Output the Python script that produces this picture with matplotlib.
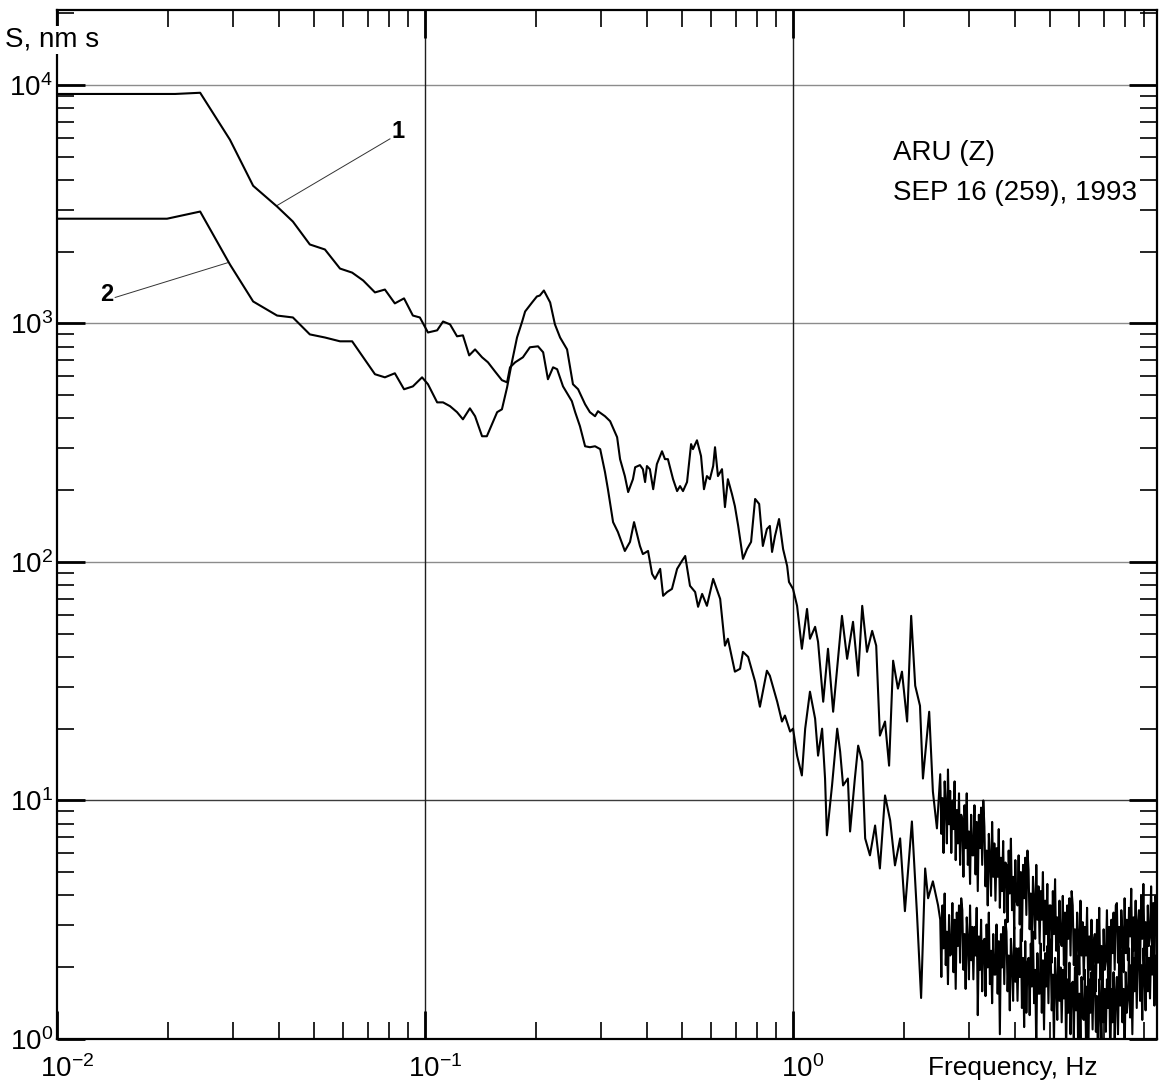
import numpy as np
import matplotlib.pyplot as plt
from matplotlib.transforms import ScaledTranslation

plt.rcParams['font.family'] = ['Liberation Sans', 'DejaVu Sans']
plt.rcParams['mathtext.fontset'] = 'custom'
plt.rcParams['mathtext.rm'] = 'Liberation Sans'
plt.rcParams['mathtext.it'] = 'Liberation Sans:italic'
plt.rcParams['mathtext.bf'] = 'Liberation Sans:bold'
plt.rcParams['axes.unicode_minus'] = False

# values, stored as log10(frequency) and log10(S)
# curve 1 (upper at low frequency)
c1_f_exp = [
    -2.000, -1.679, -1.611, -1.530, -1.467, -1.402, -1.359, -1.313, -1.272, -1.231,
    -1.198, -1.168, -1.136, -1.109, -1.082, -1.057, -1.033, -1.014, -0.992, -0.967,
    -0.951, -0.932, -0.913, -0.897, -0.880, -0.864, -0.845, -0.829, -0.810, -0.791,
    -0.777, -0.769, -0.755, -0.734, -0.715, -0.693, -0.679, -0.666, -0.652, -0.641,
    -0.625, -0.601, -0.592, -0.579, -0.565, -0.552, -0.538, -0.524, -0.511, -0.503,
    -0.489, -0.476, -0.457, -0.443, -0.432, -0.416, -0.408, -0.394, -0.383, -0.375,
    -0.361, -0.353, -0.342, -0.329, -0.315, -0.302, -0.293, -0.280, -0.266, -0.258,
    -0.247, -0.234, -0.217, -0.198, -0.185, -0.177, -0.158, -0.144, -0.136, -0.122,
    -0.103, -0.090, -0.071, -0.063, -0.043, -0.030, -0.022, -0.008, 0.000, 0.011,
    0.024, 0.033, 0.046, 0.060, 0.068, 0.079, 0.087, 0.092, 0.106, 0.120,
    0.128, 0.136, 0.149, 0.155, 0.168, 0.177, 0.188, 0.196, 0.209, 0.223,
    0.236, 0.250, 0.264, 0.277, 0.291, 0.304, 0.323, 0.337, 0.348, 0.359,
    0.367, 0.380, 0.394,
]
c1_s_exp = [
    3.962, 3.962, 3.967, 3.770, 3.577, 3.490, 3.427, 3.331, 3.310, 3.230,
    3.213, 3.180, 3.130, 3.142, 3.084, 3.105, 3.033, 3.025, 2.962, 2.971,
    3.008, 2.996, 2.946, 2.950, 2.866, 2.891, 2.858, 2.837, 2.799, 2.762,
    2.753, 2.816, 2.837, 2.858, 2.900, 2.904, 2.879, 2.766, 2.816, 2.808,
    2.736, 2.674, 2.628, 2.569, 2.485, 2.481, 2.485, 2.473, 2.377, 2.305,
    2.167, 2.126, 2.046, 2.084, 2.167, 2.067, 2.033, 2.046, 1.950, 1.929,
    1.971, 1.858, 1.874, 1.887, 1.971, 2.004, 2.025, 1.900, 1.874, 1.812,
    1.866, 1.816, 1.929, 1.845, 1.649, 1.678, 1.540, 1.552, 1.623, 1.602,
    1.498, 1.393, 1.544, 1.523, 1.414, 1.331, 1.356, 1.289, 1.301, 1.188,
    1.105, 1.301, 1.456, 1.343, 1.188, 1.301, 1.092, 0.854, 1.063, 1.301,
    1.205, 1.063, 1.092, 0.870, 1.092, 1.230, 1.163, 0.841, 0.770, 0.895,
    0.715, 1.021, 0.916, 0.728, 0.841, 0.536, 0.912, 0.519, 0.172, 0.715,
    0.590, 0.661, 0.561,
]

# curve 2 (lower at low frequency, carries the 0.2 Hz peak)
c2_f_exp = [
    -2.000, -1.701, -1.611, -1.530, -1.467, -1.402, -1.359, -1.313, -1.272, -1.231,
    -1.198, -1.168, -1.136, -1.109, -1.082, -1.057, -1.033, -1.008, -0.992, -0.967,
    -0.951, -0.932, -0.913, -0.897, -0.878, -0.864, -0.845, -0.832, -0.818, -0.804,
    -0.791, -0.777, -0.764, -0.750, -0.736, -0.728, -0.709, -0.696, -0.688, -0.677,
    -0.660, -0.647, -0.633, -0.614, -0.598, -0.584, -0.565, -0.552, -0.538, -0.530,
    -0.511, -0.497, -0.478, -0.470, -0.457, -0.448, -0.435, -0.429, -0.416, -0.408,
    -0.402, -0.397, -0.389, -0.380, -0.370, -0.356, -0.348, -0.340, -0.326, -0.315,
    -0.307, -0.299, -0.288, -0.277, -0.272, -0.261, -0.250, -0.242, -0.234, -0.226,
    -0.217, -0.212, -0.204, -0.193, -0.185, -0.177, -0.166, -0.158, -0.149, -0.136,
    -0.125, -0.114, -0.103, -0.092, -0.082, -0.071, -0.063, -0.057, -0.049, -0.038,
    -0.027, -0.016, -0.011, 0.000, 0.011, 0.024, 0.038, 0.046, 0.060, 0.068,
    0.082, 0.095, 0.109, 0.133, 0.147, 0.163, 0.177, 0.188, 0.201, 0.215,
    0.226, 0.236, 0.250, 0.261, 0.272, 0.285, 0.296, 0.310, 0.321, 0.332,
    0.345, 0.353, 0.370, 0.380, 0.391,
]
c2_s_exp = [
    3.439, 3.439, 3.469, 3.247, 3.092, 3.033, 3.025, 2.954, 2.941, 2.925,
    2.925, 2.858, 2.787, 2.774, 2.791, 2.724, 2.736, 2.774, 2.745, 2.669,
    2.669, 2.653, 2.628, 2.598, 2.644, 2.611, 2.527, 2.527, 2.577, 2.628,
    2.640, 2.732, 2.837, 2.941, 3.008, 3.050, 3.088, 3.113, 3.117, 3.138,
    3.088, 2.996, 2.941, 2.891, 2.745, 2.724, 2.661, 2.628, 2.611, 2.632,
    2.611, 2.590, 2.523, 2.431, 2.360, 2.293, 2.347, 2.397, 2.406, 2.389,
    2.335, 2.402, 2.389, 2.305, 2.410, 2.464, 2.431, 2.431, 2.347, 2.297,
    2.318, 2.297, 2.335, 2.494, 2.473, 2.510, 2.444, 2.305, 2.360, 2.347,
    2.402, 2.481, 2.360, 2.389, 2.230, 2.347, 2.285, 2.234, 2.151, 2.013,
    2.054, 2.084, 2.264, 2.243, 2.067, 2.138, 2.151, 2.042, 2.109, 2.180,
    2.054, 1.983, 1.916, 1.887, 1.816, 1.636, 1.803, 1.678, 1.728, 1.665,
    1.414, 1.636, 1.372, 1.774, 1.594, 1.749, 1.523, 1.816, 1.623, 1.711,
    1.649, 1.272, 1.331, 1.146, 1.586, 1.469, 1.540, 1.331, 1.774, 1.481,
    1.397, 1.092, 1.372, 1.038, 0.883,
]

# noisy high-frequency part (2.5 .. 9.7 Hz), estimated on an even log grid
band_f_exp = np.linspace(0.400, 0.988, 197)
band1_s_exp = [
    0.50, 0.26, 0.56, 0.38, 0.61, 0.31, 0.45, 0.23, 0.52, 0.35,
    0.36, 0.57, 0.28, 0.50, 0.21, 0.53, 0.39, 0.56, 0.32, 0.59,
    0.54, 0.29, 0.44, 0.21, 0.51, 0.41, 0.25, 0.56, 0.33, 0.47,
    0.25, 0.47, 0.35, 0.55, 0.10, 0.43, 0.29, 0.50, 0.20, 0.41,
    0.42, 0.18, 0.48, 0.30, 0.53, 0.23, 0.37, 0.15, 0.44, 0.27,
    0.27, 0.48, 0.19, 0.41, 0.02, 0.44, 0.30, 0.47, 0.23, 0.50,
    0.45, 0.20, 0.35, 0.12, 0.42, 0.32, 0.16, 0.47, 0.24, 0.38,
    0.16, 0.38, 0.26, 0.46, 0.13, 0.34, 0.05, 0.41, 0.11, 0.32,
    0.34, 0.10, 0.40, 0.22, 0.45, 0.15, 0.29, -0.05, 0.36, 0.19,
    0.19, 0.40, 0.11, 0.33, 0.04, 0.36, 0.22, 0.39, 0.15, 0.42,
    0.37, 0.12, 0.27, -0.02, 0.34, 0.24, 0.08, 0.39, 0.16, 0.30,
    0.07, 0.29, 0.17, 0.37, -0.06, 0.25, 0.11, 0.32, 0.02, 0.23,
    0.24, 0.00, 0.30, 0.12, 0.35, -0.10, 0.19, 0.00, 0.26, 0.09,
    0.08, 0.29, 0.00, 0.22, -0.12, 0.25, 0.11, 0.28, 0.04, 0.31,
    0.28, 0.03, 0.18, -0.15, 0.25, 0.15, -0.01, 0.30, 0.07, 0.21,
    0.03, 0.25, 0.13, 0.33, -0.10, 0.21, 0.07, 0.28, -0.02, 0.19,
    0.26, 0.02, 0.32, 0.14, 0.37, 0.07, 0.21, -0.08, 0.28, 0.11,
    0.17, 0.38, 0.09, 0.31, 0.02, 0.34, 0.20, 0.37, 0.13, 0.40,
    0.41, 0.16, 0.31, 0.08, 0.38, 0.28, 0.12, 0.43, 0.20, 0.34,
    0.17, 0.39, 0.27, 0.47, 0.14, 0.35, 0.21,
]
band2_s_exp = [
    1.11, 0.86, 1.01, 0.78, 1.08, 0.98, 0.82, 1.13, 0.90, 1.04,
    0.78, 1.00, 0.88, 1.08, 0.75, 0.96, 0.82, 1.03, 0.73, 0.94,
    0.92, 0.68, 0.98, 0.80, 1.03, 0.73, 0.87, 0.65, 0.94, 0.77,
    0.77, 0.98, 0.69, 0.91, 0.62, 0.94, 0.80, 0.97, 0.73, 1.00,
    0.89, 0.64, 0.79, 0.56, 0.86, 0.76, 0.60, 0.91, 0.68, 0.82,
    0.58, 0.80, 0.68, 0.88, 0.55, 0.76, 0.62, 0.83, 0.53, 0.74,
    0.73, 0.49, 0.79, 0.61, 0.84, 0.54, 0.68, 0.46, 0.75, 0.58,
    0.56, 0.77, 0.48, 0.70, 0.41, 0.73, 0.59, 0.76, 0.52, 0.79,
    0.71, 0.46, 0.61, 0.38, 0.68, 0.58, 0.42, 0.73, 0.50, 0.64,
    0.40, 0.62, 0.50, 0.70, 0.37, 0.58, 0.44, 0.65, 0.35, 0.56,
    0.56, 0.32, 0.62, 0.44, 0.67, 0.37, 0.51, 0.29, 0.58, 0.41,
    0.39, 0.60, 0.31, 0.53, 0.24, 0.56, 0.42, 0.59, 0.35, 0.62,
    0.56, 0.31, 0.46, 0.23, 0.53, 0.43, 0.27, 0.58, 0.35, 0.49,
    0.25, 0.47, 0.35, 0.55, 0.22, 0.43, 0.29, 0.50, 0.20, 0.41,
    0.44, 0.20, 0.50, 0.32, 0.55, 0.25, 0.39, 0.17, 0.46, 0.29,
    0.33, 0.54, 0.25, 0.47, 0.18, 0.50, 0.36, 0.53, 0.29, 0.56,
    0.57, 0.32, 0.47, 0.24, 0.54, 0.44, 0.28, 0.59, 0.36, 0.50,
    0.33, 0.55, 0.43, 0.63, 0.30, 0.51, 0.37, 0.58, 0.28, 0.49,
    0.54, 0.30, 0.60, 0.42, 0.65, 0.35, 0.49, 0.27, 0.56, 0.39,
    0.43, 0.64, 0.35, 0.57, 0.28, 0.60, 0.46,
]

f1 = 10 ** np.concatenate([c1_f_exp, band_f_exp])
s1 = 10 ** np.concatenate([c1_s_exp, band1_s_exp])
f2 = 10 ** np.concatenate([c2_f_exp, band_f_exp])
s2 = 10 ** np.concatenate([c2_s_exp, band2_s_exp])

W, H = 1159, 1084
fig = plt.figure(figsize=(W / 100, H / 100), dpi=100)
ax = fig.add_axes([57 / W, 1 - 1039 / H, 1100 / W, 1029 / H])
ax.set_xscale('log')
ax.set_yscale('log')
ax.set_xlim(0.01, 10 ** 0.989)
ax.set_ylim(1, 10 ** 4.314)

# reference lines
for yv in [1e4, 1e3, 1e2]:
    ax.axhline(yv, color='#8c8c8c', lw=1.0, zorder=1)
ax.axhline(1e1, color='#3c3c3c', lw=1.0, zorder=1)
for xv in [0.1, 1.0]:
    ax.axvline(xv, color='#1e1e1e', lw=1.0, zorder=1)

ax.plot(f1, s1, color='black', lw=1.5, zorder=3)
ax.plot(f2, s2, color='black', lw=1.5, zorder=3)

# curve labels with leader lines
ax.plot([0.0803, 0.0396], [5940, 3120], color='#333333', lw=0.7, zorder=2)
ax.text(0.0845, 6350, '1', fontsize=17, fontweight='bold', ha='center', va='center')
ax.plot([0.01439, 0.0292], [1285, 1800], color='#333333', lw=0.7, zorder=2)
ax.text(0.01368, 1321, '2', fontsize=17, fontweight='bold', ha='center', va='center')

ax.text(0.760, 0.861, 'ARU (Z)', transform=ax.transAxes, fontsize=20, va='center')
ax.text(0.760, 0.822, 'SEP 16 (259), 1993', transform=ax.transAxes, fontsize=20, va='center')

ax.tick_params(which='both', direction='in', top=True, right=True, labelsize=20)
ax.tick_params(which='major', length=20, width=2.0)
ax.tick_params(which='minor', length=12, width=1.2)
ax.tick_params(axis='y', pad=3)
ax.tick_params(axis='x', pad=12)
for sp in ax.spines.values():
    sp.set_linewidth(1.6)

# the reference centres the "10" on the tick, with the exponent hanging right
shift = ScaledTranslation(10 / 100, 0, fig.dpi_scale_trans)
for lab in ax.get_xticklabels():
    lab.set_transform(lab.get_transform() + shift)

fig.text(5 / W, 1 - 40 / H, 'S, nm s', fontsize=20, va='center', ha='left',
         bbox=dict(facecolor='white', edgecolor='none', pad=1))
fig.text(928 / W, 1 - 1068 / H, 'Frequency, Hz', fontsize=19, va='center', ha='left')

fig.savefig('out.png', dpi=100)
